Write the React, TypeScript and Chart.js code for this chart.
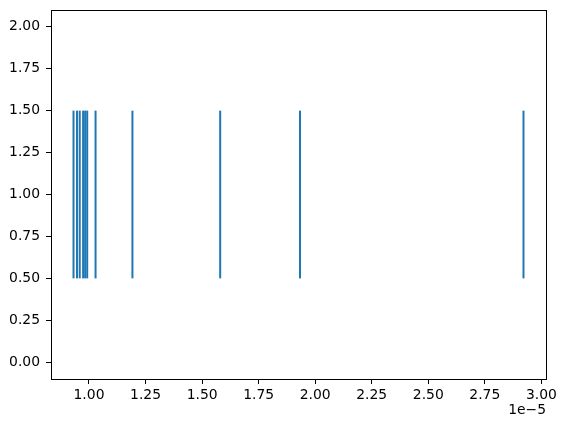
import React, { useEffect, useRef } from "react";
import { Chart, registerables } from "chart.js";

Chart.register(...registerables);

// Event positions, in units of 1e-5
const eventPositions = [0.9315, 0.947, 0.959, 0.974, 0.983, 0.992, 1.029, 1.192, 1.58, 1.933, 2.921];
const lineOffset = 1.0;
const lineLength = 1.0;
const xTicks = [1.0, 1.25, 1.5, 1.75, 2.0, 2.25, 2.5, 2.75, 3.0];
const yTicks = [0.0, 0.25, 0.5, 0.75, 1.0, 1.25, 1.5, 1.75, 2.0];
const xOffsetLabel = "1e\u22125";
const xMin = 0.8320;
const xMax = 3.0205;
const yMin = -0.1;
const yMax = 2.1;

const COLOR = "#1f77b4";
const FONT = { family: "'DejaVu Sans', sans-serif", size: 13.9 };

export default function App() {
  const ref = useRef<HTMLCanvasElement | null>(null);

  useEffect(() => {
    if (!ref.current) return;
    const datasets = eventPositions.map((x) => ({
      data: [
        { x, y: lineOffset - lineLength / 2 },
        { x, y: lineOffset + lineLength / 2 },
      ],
      showLine: true,
      borderColor: COLOR,
      backgroundColor: COLOR,
      borderWidth: 2,
      borderCapStyle: "butt" as const,
      pointRadius: 0,
      fill: false,
    }));

    const frame = {
      id: "frame",
      afterDraw(chart: any) {
        const { ctx, chartArea: a } = chart;
        ctx.save();
        ctx.strokeStyle = "#000";
        ctx.lineWidth = 1;
        ctx.strokeRect(Math.round(a.left) + 0.5, Math.round(a.top) + 0.5, Math.round(a.right - a.left), Math.round(a.bottom - a.top));
        ctx.fillStyle = "#000";
        ctx.font = `${FONT.size}px ${FONT.family}`;
        ctx.textAlign = "right";
        ctx.textBaseline = "top";
        ctx.fillText(xOffsetLabel, a.right, 403);
        ctx.restore();
      },
    };

    const chart = new Chart(ref.current, {
      type: "scatter",
      data: { datasets },
      options: {
        animation: false,
        responsive: false,
        maintainAspectRatio: false,
        layout: { padding: { left: 0, right: 20, top: 10, bottom: 0 } },
        plugins: { legend: { display: false }, tooltip: { enabled: false } },
        scales: {
          x: {
            type: "linear",
            min: xMin,
            max: xMax,
            afterBuildTicks: (s: any) => {
              s.ticks = xTicks.map((v) => ({ value: v }));
            },
            afterFit: (s: any) => {
              s.height = 52;
              s.paddingLeft = 0;
              s.paddingRight = 0;
            },
            grid: { display: true, drawOnChartArea: false, drawTicks: true, tickLength: 5, color: "#000", tickColor: "#000" },
            border: { display: true, color: "#000", width: 1 },
            ticks: {
              color: "#000",
              font: FONT,
              padding: 3,
              maxRotation: 0,
              autoSkip: false,
              callback: (v: any) => Number(v).toFixed(2),
            },
          },
          y: {
            type: "linear",
            min: yMin,
            max: yMax,
            afterBuildTicks: (s: any) => {
              s.ticks = yTicks.map((v) => ({ value: v }));
            },
            afterFit: (s: any) => {
              s.width = 51;
              s.paddingTop = 0;
              s.paddingBottom = 0;
            },
            grid: { display: true, drawOnChartArea: false, drawTicks: true, tickLength: 5, color: "#000", tickColor: "#000" },
            border: { display: true, color: "#000", width: 1 },
            ticks: {
              color: "#000",
              font: FONT,
              padding: 6,
              autoSkip: false,
              callback: (v: any) => Number(v).toFixed(2),
            },
          },
        },
      },
      plugins: [frame],
    });
    return () => chart.destroy();
  }, []);

  return (
    <div style={{ position: "absolute", left: 0, top: 0, width: 566, height: 431, background: "#fff" }}>
      <canvas ref={ref} width={566} height={431} style={{ width: 566, height: 431, display: "block" }} />
    </div>
  );
}
